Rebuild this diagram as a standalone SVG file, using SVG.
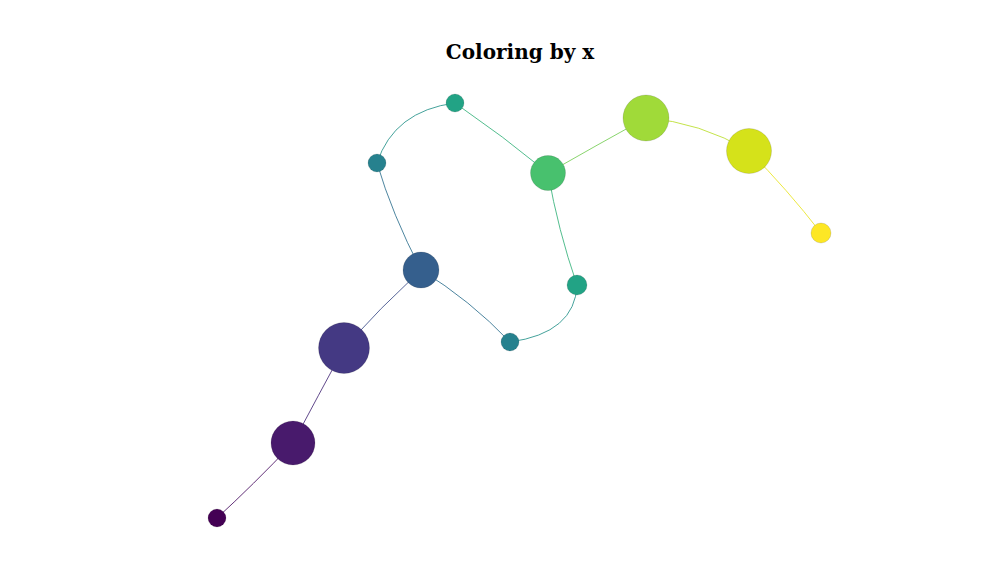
<svg xmlns="http://www.w3.org/2000/svg" width="1000" height="580" viewBox="0 0 1000 580">
<style>
.title{font-family:"DejaVu Serif",serif;font-weight:bold;font-size:20px;text-anchor:middle;fill:#000}
.edge{fill:none;stroke-width:1;stroke-opacity:0.85}
.node{stroke:#000;stroke-opacity:0.12;stroke-width:1}
</style>
<rect width="1000" height="580" fill="#fff"/>
<text class="title" x="520" y="59">Coloring by x</text>
<g id="connectors">
<path class="edge" stroke="#460d60" d="M217,518 Q252,486 293,443"/>
<path class="edge" stroke="#462a78" d="M293,443 Q318,396 344,348"/>
<path class="edge" stroke="#3c4c88" d="M344,348 Q380,308 421,270"/>
<path class="edge" stroke="#2e708e" d="M421,270 Q392,214 377,163"/>
<path class="edge" stroke="#249289" d="M377,163 Q394,111 455,103"/>
<path class="edge" stroke="#35b27a" d="M455,103 Q503,136 548,173"/>
<path class="edge" stroke="#74cd54" d="M548,173 Q597,145 646,118"/>
<path class="edge" stroke="#bade2a" d="M646,118 Q700,122 749,151"/>
<path class="edge" stroke="#e9e420" d="M749,151 Q787,189 821,233"/>
<path class="edge" stroke="#2e708e" d="M421,270 Q470,300 510,342"/>
<path class="edge" stroke="#249289" d="M510,342 Q575,333 577,285"/>
<path class="edge" stroke="#35b27a" d="M577,285 Q558,230 548,173"/>
</g>
<g id="n1"><circle class="node" cx="217" cy="518" r="9" fill="#440154"/></g>
<g id="n2"><circle class="node" cx="293" cy="443" r="22" fill="#481a6c"/></g>
<g id="n3"><circle class="node" cx="344" cy="348" r="25.5" fill="#443983"/></g>
<g id="n4"><circle class="node" cx="421" cy="270" r="18" fill="#355f8d"/></g>
<g id="n5"><circle class="node" cx="377" cy="163" r="9" fill="#26818e"/></g>
<g id="n6"><circle class="node" cx="455" cy="103" r="9" fill="#22a385"/></g>
<g id="n7"><circle class="node" cx="548" cy="173" r="17.5" fill="#48c16e"/></g>
<g id="n8"><circle class="node" cx="510" cy="342" r="9" fill="#26818e"/></g>
<g id="n9"><circle class="node" cx="577" cy="285" r="10" fill="#22a385"/></g>
<g id="n10"><circle class="node" cx="646" cy="118" r="23" fill="#a0da39"/></g>
<g id="n11"><circle class="node" cx="749" cy="151" r="22.5" fill="#d5e21a"/></g>
<g id="n12"><circle class="node" cx="821" cy="233" r="10" fill="#fde725"/></g>
</svg>
